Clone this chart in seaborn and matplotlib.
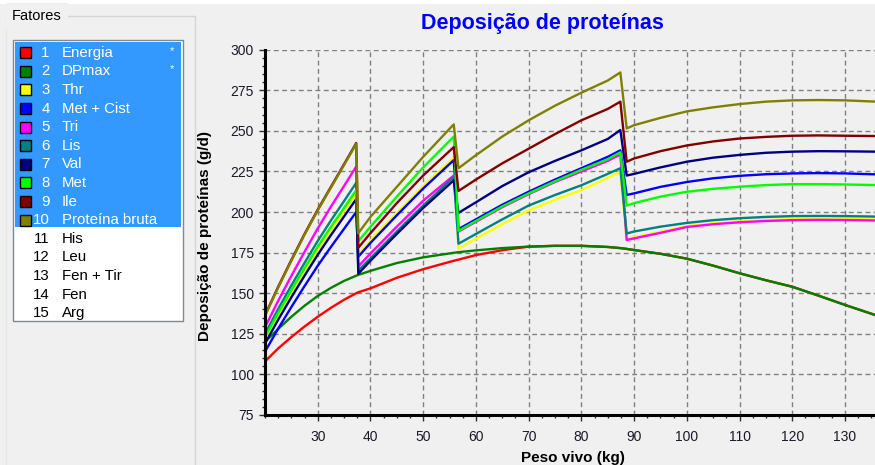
import numpy as np
import pandas as pd
import seaborn as sns
import matplotlib.pyplot as plt
from matplotlib.patches import Rectangle
from matplotlib.ticker import MultipleLocator

# peso vivo (kg)
peso = [20, 22.5, 25, 27.5, 30, 32.5, 35, 37.3,
        37.7, 40, 45, 50, 55.8,
        56.7, 60, 65, 70, 75, 80, 85, 87.4,
        88.6, 90, 95, 100, 105, 110, 115, 120, 125, 130, 136]

energia = [108, 116, 123, 129.5, 135.5, 141, 146, 150,
           150.6, 153, 159.5, 164.8, 170,
           170.7, 173.5, 176.5, 178.7, 179.2, 179.2, 178.5, 177.8,
           177.3, 176.6, 174.3, 171.3, 167, 162.3, 158, 154, 148.5, 142.8, 136.3]
dpmax = [120, 128, 135.5, 142.3, 148.3, 153.3, 157.6, 160.8,
         161.3, 163.8, 168.6, 172.1, 174.9,
         175.3, 176.4, 177.8, 178.7, 179.2, 179.2, 178.5, 177.8,
         177.3, 176.6, 174.3, 171.3, 167, 162.3, 158, 154, 148.5, 142.8, 136.3]
thr = [122, 136.8, 150.6, 164.1, 177, 189.1, 200.8, 211.5,
       174, 182.5, 199.5, 216, 233.5,
       177.5, 183.5, 192.5, 201, 207.5, 213.5, 221, 225,
       183.5, 184.5, 187.8, 191.3, 193, 194.2, 195.1, 195.6, 195.8, 195.7, 195.4]
met_cist = [114, 128.2, 141.5, 154.4, 166.9, 178.5, 189.7, 200,
            172.5, 181, 198, 214.5, 232,
            189.5, 195.5, 204.5, 212.5, 220, 227, 234, 238,
            210.5, 211.5, 215.5, 218.5, 220.8, 222.3, 223.3, 223.8, 224, 223.8, 223.2]
tri = [129, 145.3, 160.7, 175.5, 189.9, 203.3, 216.1, 228,
       166.5, 174.5, 191, 207, 222.5,
       188, 194, 203, 211, 218.5, 225, 231.5, 235.5,
       182.8, 183.8, 187.2, 190.8, 192.5, 193.7, 194.5, 195, 195.2, 195.1, 194.8]
lis = [125, 140.3, 154.8, 168.7, 182.2, 194.8, 206.8, 218,
       164, 171.5, 188, 204, 221.5,
       180.5, 186.5, 195.5, 204, 210.5, 216.5, 223.5, 227,
       186.8, 188, 191, 193.3, 195, 196.2, 197, 197.5, 197.6, 197.5, 197.2]
val = [119, 133.7, 147.5, 160.8, 173.7, 185.8, 197.3, 208,
       162, 170, 186.5, 202.5, 219.5,
       199.5, 206, 216, 224.5, 231.5, 238, 245, 250.5,
       222.5, 223.5, 227.5, 231, 233.5, 235.2, 236.5, 237.2, 237.5, 237.4, 237.2]
met = [123, 137.9, 152, 165.5, 178.7, 190.9, 202.6, 213.5,
       182, 191, 209.5, 227.5, 246.5,
       188.5, 194.5, 203.5, 211.5, 219, 226, 232.5, 236.8,
       204, 205.5, 209.5, 212.5, 214.3, 215.6, 216.6, 217.2, 217.2, 217, 216.6]
ile = [136.5, 154, 170.5, 186.5, 201.5, 215.5, 229.5, 242.5,
       178, 187, 205.5, 222.5, 240,
       213, 220, 230, 239, 248, 256.5, 263.5, 268,
       231, 233, 237.5, 241, 243.5, 245.3, 246.3, 247, 247.2, 247, 246.8]
pb = [136, 153.5, 170, 186, 201, 215, 229, 242,
      187, 197, 215.5, 234, 254,
      227, 235, 246.5, 256.5, 265.5, 273.5, 281, 286,
      251.5, 253.5, 258, 262, 264.5, 266.5, 268, 268.8, 269, 268.8, 268]

fatores = ["Energia", "DPmax", "Thr", "Met + Cist", "Tri", "Lis", "Val", "Met",
           "Ile", "Proteína bruta", "His", "Leu", "Fen + Tir", "Fen", "Arg"]
cores = ["#FF0000", "#008000", "#FFFF00", "#0000FF", "#FF00FF",
         "#008080", "#000080", "#00FF00", "#800000", "#808000"]

series = [energia, dpmax, thr, met_cist, tri, lis, val, met, ile, pb]
df = pd.concat([pd.DataFrame({"peso": peso, "dp": s, "fator": f})
                for f, s in zip(fatores[:10], series)], ignore_index=True)

plt.rcParams["font.family"] = ["Liberation Sans", "DejaVu Sans"]
bg = "#F0F0F0"
W, H = 875, 465

fig = plt.figure(figsize=(W / 100, H / 100), dpi=100, facecolor=bg)

# painel "Fatores" (coordenadas em pixels)
pan = fig.add_axes([0, 0, 1, 1])
pan.set_xlim(0, W)
pan.set_ylim(H, 0)
pan.axis("off")
pan.add_patch(Rectangle((0, 0), W, 4, color="white", lw=0))
pan.plot([6, 195, 195], [16, 16, H], color="#D5D5D5", lw=1)
pan.plot([6, 6], [16, H], color="#E8E8E8", lw=1)
pan.text(12, 16, "Fatores", fontsize=10.5, va="center", ha="left",
         color="black", backgroundcolor=bg)
pan.add_patch(Rectangle((13, 40), 170, 281, facecolor="white",
                        edgecolor="#828790", lw=1))
pan.add_patch(Rectangle((15, 42), 166, 185.5, facecolor="#3399FF", lw=0))
for i, nome in enumerate(fatores):
    yc = 52.7 + 18.6 * i
    sel = i < 10
    tc = "white" if sel else "black"
    if sel:
        pan.add_patch(Rectangle((19.5, yc - 5.5), 11, 11, facecolor=cores[i],
                                edgecolor="black", lw=1))
    pan.text(49.5, yc, str(i + 1), fontsize=10.8, ha="right", va="center", color=tc)
    pan.text(61.5, yc, nome, fontsize=10.8, ha="left", va="center", color=tc)
    if i < 2:
        pan.text(172, yc - 2, "*", fontsize=8, ha="center", va="center", color="white")

fig.text(542 / W, 1 - 24 / H, "Deposição de proteínas", color="#0000FF",
         fontsize=15.5, fontweight="bold", ha="center", va="center")

# grafico
ax = fig.add_axes([265 / W, 1 - 415 / H, 610 / W, 365.3 / H])
ax.set_facecolor(bg)
sns.lineplot(data=df, x="peso", y="dp", hue="fator", hue_order=fatores[:10],
             palette=cores, estimator=None, sort=False, legend=False,
             lw=1.7, ax=ax)

ax.set_xlim(20, 135.7)
ax.set_ylim(75, 300)
ax.set_xticks(range(30, 131, 10))
ax.xaxis.set_minor_locator(MultipleLocator(2.5))
ax.yaxis.set_major_locator(MultipleLocator(25))
ax.yaxis.set_minor_locator(MultipleLocator(5))
ax.grid(True, which="major", color="#808080", lw=1, ls=(0, (3.5, 2.5)))
ax.set_axisbelow(True)
for side in ["top", "right"]:
    ax.spines[side].set_visible(False)
for side in ["left", "bottom"]:
    ax.spines[side].set_linewidth(2.2)
    ax.spines[side].set_color("black")
ax.tick_params(which="major", length=4.5, width=1, labelsize=10,
               colors="#303030", labelcolor="#1a1a2a", pad=3.5)
ax.tick_params(which="minor", length=2.5, width=1, colors="#303030")
ax.tick_params(axis="x", which="major", pad=6)

ax.set_xlabel("Peso vivo (kg)", fontsize=11, fontweight="bold")
ax.set_ylabel("Deposição de proteínas (g/d)", fontsize=11, fontweight="bold")
ax.xaxis.set_label_coords((573 - 265) / 610, -(451 - 415) / 365.3)
ax.yaxis.set_label_coords((212 - 265) / 610, 0.5 - 3.5 / 365.3)

fig.savefig("out.png", dpi=100, facecolor=bg)
